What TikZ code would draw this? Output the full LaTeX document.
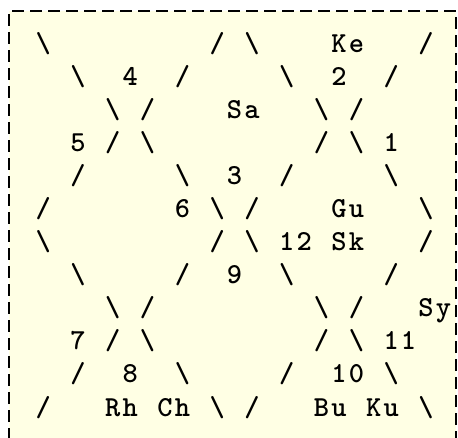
\documentclass[tikz,border=0pt]{standalone}
\usepackage{tikz}
\definecolor{paper}{RGB}{255,255,228}
\newcommand{\bsl}{\textbackslash}
\newcommand{\fsl}{/}
% every character of a token gets one cell of the grid
\newcommand{\spread}[1]{\expandafter\spreadi#1\relax}
\def\spreadi#1{\ifx#1\relax\else\makebox[17.4pt]{#1}\expandafter\spreadi\fi}

\begin{document}
\begin{tikzpicture}[x=1pt, y=-1pt,
    cell/.style={inner sep=0pt, anchor=base west,
      font=\fontsize{29}{33}\selectfont\ttfamily\bfseries}]
  \def\cw{17.4}   % width of one character cell
  \def\lh{33}     % line height
  \def\lx{34.3}   % left edge of column 0
  \def\by{53}     % baseline of row 1
  \useasboundingbox (0,0) rectangle (458,438);
  \fill[white] (0,0) rectangle (458,438);
  \fill[paper] (9,11) rectangle (456,440);
  \draw[line width=2.7pt, dash pattern=on 12pt off 6pt]
    (9,440) -- (9,11) -- (456,11) -- (456,440);
  \foreach \r/\c/\t in {
      1/0/\bsl, 1/10/\fsl, 1/12/\bsl, 1/17/Ke, 1/22/\fsl,
      2/2/\bsl, 2/5/4, 2/8/\fsl, 2/14/\bsl, 2/17/2, 2/20/\fsl,
      3/4/\bsl, 3/6/\fsl, 3/11/Sa, 3/16/\bsl, 3/18/\fsl,
      4/2/5, 4/4/\fsl, 4/6/\bsl, 4/16/\fsl, 4/18/\bsl, 4/20/1,
      5/2/\fsl, 5/8/\bsl, 5/11/3, 5/14/\fsl, 5/20/\bsl,
      6/0/\fsl, 6/8/6, 6/10/\bsl, 6/12/\fsl, 6/17/Gu, 6/22/\bsl,
      7/0/\bsl, 7/10/\fsl, 7/12/\bsl, 7/14/12, 7/17/Sk, 7/22/\fsl,
      8/2/\bsl, 8/8/\fsl, 8/11/9, 8/14/\bsl, 8/20/\fsl,
      9/4/\bsl, 9/6/\fsl, 9/16/\bsl, 9/18/\fsl, 9/22/Sy,
      10/2/7, 10/4/\fsl, 10/6/\bsl, 10/16/\fsl, 10/18/\bsl, 10/20/11,
      11/2/\fsl, 11/5/8, 11/8/\bsl, 11/14/\fsl, 11/17/10, 11/20/\bsl,
      12/0/\fsl, 12/4/Rh, 12/7/Ch, 12/10/\bsl, 12/12/\fsl, 12/16/Bu, 12/19/Ku, 12/22/\bsl}
    \node[cell] (r\r-\c) at ({\lx+\cw*\c}, {\by+\lh*(\r-1)}) {\spread{\t}};
\end{tikzpicture}
\end{document}
